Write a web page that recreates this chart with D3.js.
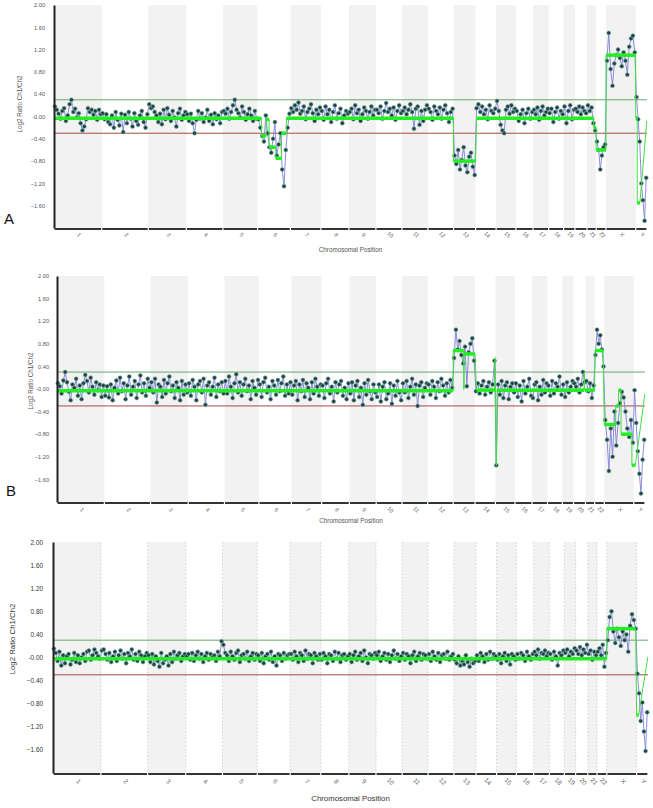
<!DOCTYPE html>
<html lang="en">
<head>
    <meta charset="UTF-8">
    <title>Array CGH profiles</title>
    <script src="https://cdnjs.cloudflare.com/ajax/libs/d3/7.8.2/d3.min.js"></script>
    <style>
        body {
            margin: 0;
            padding: 0;
            background-color: #ffffff;
            font-family: Arial, "Liberation Sans", sans-serif;
        }
        svg { display: block; }
    </style>
</head>
<body>
    <svg width="653" height="808"></svg>

    <script>
        // chromosomes and their lengths (Mb), used for the genome axis
        const chromNames = ["1","2","3","4","5","6","7","8","9","10","11","12",
                            "13","14","15","16","17","18","19","20","21","22","X","Y"];
        const chromLengthsMb = [249,243,198,191,181,171,159,146,141,136,135,134,
                                115,107,103,90,81,78,59,63,48,51,155,59];
        const yTicks = [2, 1.6, 1.2, 0.8, 0.4, 0, -0.4, -0.8, -1.2, -1.6];
        const thresholds = [0.3, -0.3];

        // probe log2 ratios, x100, one list per chromosome
        const ratiosA = [
            [18,12,5,-4,10,15,-8,2,22,30,8,14,-2,6,-12,-25,-18,-5,15,8,12,3,10,-6,12,4],
            [6,-5,4,-10,-14,2,-20,8,-6,-16,5,-28,3,-12,8,-4,-18,6,-8,-15,2,10,-10,-20,4],
            [22,15,18,8,2,-10,5,-14,12,-5,15,3,-8,10,-2,-18,6,14,-6,2,8],
            [4,-8,5,-12,-30,-6,10,-4,6,-10,-2,12,-8,3,-14,6,-5,2,-12,8],
            [10,5,14,-4,8,20,30,12,6,-2,18,8,-6,4,14,2,-8,10,-4],
            [-5,-20,-35,-45,2,-30,-55,-65,-40,-10,-70,-50,-30,-95,-125,-60,-20,5],
            [15,8,20,12,25,5,10,18,-5,8,14,22,6,-8,12,4,16],
            [10,-6,18,4,12,-10,8,20,-4,6,14,-12,2,10,5],
            [8,14,-5,20,6,12,-8,4,16,10,-4,8,18,2,12],
            [12,6,18,-4,10,24,8,14,2,16,-6,10,20,6],
            [10,16,4,12,22,8,-22,14,18,-15,10,-8,12,20],
            [14,8,-6,18,10,4,16,-4,12,20,6,-10,8,14],
            [-70,-85,-60,-95,-78,-55,-88,-100,-72,-65,-90,-105],
            [15,22,8,18,4,12,-5,20,10,6,14],
            [28,10,-15,-25,-30,12,18,5,20,8,14],
            [10,-8,4,12,-12,6,14,-4,8],
            [12,4,16,-6,10,18,2,8,14],
            [6,14,-10,8,16,-4,10,4],
            [18,-12,10,20,-5,12],
            [14,8,18,4,16,10,6],
            [20,10,16,-12,-25],
            [-45,-60,-95,-70,-55,-50],
            [100,150,85,55,95,110,120,105,90,115,100,75,125,140,145,115],
            [35,-5,-45,-120,-150,-187,-110]
        ];
        const ratiosB = [
            [10,5,-8,15,30,12,-5,-20,8,2,18,-12,6,-18,10,25,14,-6,20,4,-10,12,-2,8,-14,6],
            [-12,5,-15,8,-20,2,15,-8,20,-4,10,-18,6,22,-10,4,14,-16,8,24,-6,10,-12,18,2],
            [12,-6,18,-24,8,4,-14,16,-8,10,22,-4,6,-16,12,2,-20,14,-10,8,-6],
            [10,-12,16,4,-20,8,14,-6,18,-28,6,12,-10,4,20,-14,8,-4,12,-8],
            [14,-8,22,4,-16,10,26,-6,12,-12,8,18,-4,6,-18,14,2,-10,16],
            [8,-14,12,20,-6,4,-18,14,6,-10,16,-4,10,22,-12,8,-8,12],
            [-10,6,14,-20,8,-4,16,-14,10,2,-18,12,-8,18,4,-12,8],
            [6,-16,10,18,-8,4,-22,12,-6,8,14,-12,2,-18,10],
            [-8,12,-20,6,14,-14,2,-28,10,-10,16,-4,-18,8,-6],
            [-14,8,-22,4,12,-18,-8,10,-26,6,-12,14,-6,-20],
            [10,-6,14,-16,4,18,-10,8,-30,6,12,-14,2,10],
            [8,-10,14,4,-16,12,-4,18,6,-12,10,-6,16,2],
            [55,105,70,85,60,45,75,5,65,80,90,50],
            [-4,10,-8,6,14,-10,4,12,-6,8,50],
            [-135,8,-10,14,-16,6,12,-18,4,10,-6],
            [10,-14,6,-22,14,-8,4,18,-12],
            [-16,8,12,-20,4,-10,16,-6,10],
            [6,-12,14,-8,10,4,22,-10],
            [8,-14,12,-6,4,14],
            [10,4,18,-6,8,30,12],
            [14,-4,10,-16,6],
            [60,105,80,95,70,40],
            [-55,-90,-145,-70,-120,-40,-100,-60,-25,-5,-15,-40,-70,-85,-55,-95],
            [-2,-60,-110,-150,-185,-125,-90]
        ];
        const ratiosC = [
            [15,8,-6,10,-14,4,-10,2,6,-12,-4,8,-8,4,-10,0,6,-6,10,12,-4,4,14,8,2,-2],
            [12,14,6,-4,8,-8,2,10,-6,4,12,-2,6,-10,8,2,14,-4,6,-6,10,4,-8,2,8],
            [4,-8,6,-12,2,-6,-16,8,-10,-4,2,-14,6,-8,10,-2,4,8,-6,2,6],
            [2,6,-4,8,-6,4,10,-2,6,-8,2,8,-4,6,0,4,-6,10,2,28],
            [22,8,4,-6,10,2,-4,8,12,-8,4,6,-2,10,-6,2,8,-4,6],
            [4,-6,8,-10,2,6,-4,10,-8,2,-14,6,4,-6,8,-2,4,6],
            [6,-4,10,2,-8,8,4,-6,12,-2,6,4,-10,8,2,-4,6],
            [-4,8,2,-10,6,4,-6,10,-2,8,-8,4,6,-4,2],
            [6,-8,4,10,-4,2,8,-6,12,0,-10,6,4,-2,8],
            [4,10,-6,2,8,-4,6,-8,4,12,-2,6,-6,2],
            [8,-4,6,2,-10,4,10,-6,2,8,-4,6,4,-2],
            [6,-6,10,2,-4,8,-8,4,6,-2,10,-4,2,6],
            [-4,-10,2,-14,-6,-12,4,-8,-16,-2,-10,-6],
            [4,-6,8,2,-8,6,-4,10,-2,6,2],
            [-4,6,-10,2,8,-6,4,-12,6,2,-4],
            [6,-2,8,4,-6,10,2,-4,6],
            [10,4,14,-2,8,6,12,2,8],
            [6,-4,10,2,-14,8,4,12],
            [8,14,2,10,6,16],
            [12,6,18,4,14,8,22],
            [6,12,-4,10,4],
            [10,16,4,22,-16,8],
            [30,70,80,45,25,50,35,20,45,30,40,10,55,75,65,50],
            [-28,-62,-110,-78,-128,-162,-95]
        ];

        // segmentation calls: [fromChr, fromMb, toChr, toMb, mean log2 ratio]
        const segmentsA = [
            ["1",0,"6",20,-0.03], ["6",20,"6",45,-0.35], ["6",45,"6",60,-0.05],
            ["6",60,"6",95,-0.55], ["6",95,"6",125,-0.75], ["6",125,"6",150,-0.3],
            ["6",150,"12",134,-0.03], ["13",0,"13",115,-0.8], ["14",5,"21",35,-0.03],
            ["21",35,"21",48,-0.2], ["22",0,"22",51,-0.6], ["X",0,"X",155,1.1],
            ["Y",0,"Y",8,-0.02], ["Y",8,"Y",22,-1.55], ["Y",58,"Y",59,-0.08]
        ];
        const segmentsB = [
            ["1",0,"12",134,-0.03], ["13",0,"13",55,0.68], ["13",56,"13",57,0.0],
            ["13",58,"13",115,0.62], ["14",8,"14",104,-0.02], ["14",105,"14",106,0.55],
            ["15",4,"15",5,-1.35], ["15",9,"20",55,-0.02], ["20",56,"20",57,0.3],
            ["20",59,"21",48,-0.02], ["22",2,"22",45,0.68], ["X",0,"X",60,-0.63],
            ["X",60,"X",75,-0.3], ["X",75,"X",88,-0.02], ["X",88,"X",145,-0.8],
            ["X",145,"Y",8,-1.35], ["Y",58,"Y",59,-0.1]
        ];
        const segmentsC = [
            ["1",0,"22",51,-0.02], ["X",0,"X",150,0.5],
            ["Y",0,"Y",10,-1.0], ["Y",58,"Y",59,0.0]
        ];

        const svg = d3.select("svg");

        const chromStart = [];
        let total = 0;
        chromLengthsMb.forEach(len => { chromStart.push(total); total += len; });
        const gpos = (chr, mb) => chromStart[chromNames.indexOf(chr)] + mb;

        const panels = [
            { letter: "A", ratios: ratiosA, segs: segmentsA, left: 54, right: 647, top: 5, bottom: 228,
              tickX: 45, tickFont: 5.6, ylabX: 22, ylabY: 104, labFont: 6.3, letterX: 4, letterY: 224,
              chrY: 236, xlabY: 252, color: "#555", dotted: false },
            { letter: "B", ratios: ratiosB, segs: segmentsB, left: 57, right: 645, top: 276, bottom: 502,
              tickX: 49, tickFont: 5.6, ylabX: 33, ylabY: 381, labFont: 6.3, letterX: 6, letterY: 496,
              chrY: 511, xlabY: 523, color: "#555", dotted: false },
            { letter: "", ratios: ratiosC, segs: segmentsC, left: 53, right: 648, top: 542, bottom: 773,
              tickX: 43, tickFont: 6.4, ylabX: 15, ylabY: 639, labFont: 7.8, letterX: 0, letterY: 0,
              chrY: 783, xlabY: 801, color: "#333", dotted: true }
        ];

        panels.forEach(p => {
            const g = svg.append("g");
            const x = d3.scaleLinear().domain([0, total]).range([p.left, p.right]);
            const y = d3.scaleLinear().domain([-2, 2]).range([p.bottom, p.top]);

            const chroms = chromNames.map((c, i) => ({ name: c, i: i, start: chromStart[i], len: chromLengthsMb[i] }));

            // alternating chromosome bands
            g.selectAll("rect.band")
                .data(chroms.filter(d => d.i % 2 === 0))
                .enter().append("rect")
                .attr("x", d => x(d.start))
                .attr("y", p.top)
                .attr("width", d => x(d.start + d.len) - x(d.start))
                .attr("height", p.bottom - p.top)
                .attr("fill", "#f2f2f2");

            if (p.dotted) {
                g.selectAll("line.sep")
                    .data(chroms.slice(1))
                    .enter().append("line")
                    .attr("x1", d => x(d.start)).attr("x2", d => x(d.start))
                    .attr("y1", p.top).attr("y2", p.bottom)
                    .attr("stroke", "#d4d4d4")
                    .attr("stroke-dasharray", "1.5,2");
            }

            // threshold lines
            g.selectAll("line.thr")
                .data(thresholds)
                .enter().append("line")
                .attr("x1", p.left).attr("x2", p.right)
                .attr("y1", d => y(d)).attr("y2", d => y(d))
                .attr("stroke", d => d > 0 ? "#6aa86a" : "#a84848")
                .attr("stroke-width", 1);

            // probes
            const pts = [];
            p.ratios.forEach((vals, i) => {
                vals.forEach((v, j) => {
                    pts.push({ gx: chromStart[i] + (j + 0.5) / vals.length * chromLengthsMb[i], v: v / 100 });
                });
            });

            g.append("path")
                .datum(pts)
                .attr("fill", "none")
                .attr("stroke", "#8080d8")
                .attr("stroke-width", 0.9)
                .attr("d", d3.line().x(d => x(d.gx)).y(d => y(d.v)));

            g.selectAll("circle")
                .data(pts)
                .enter().append("circle")
                .attr("cx", d => x(d.gx))
                .attr("cy", d => y(d.v))
                .attr("r", 2)
                .attr("fill", "#1f4438")
                .attr("stroke", "#7fb0b8")
                .attr("stroke-width", 0.6);

            // segmentation
            const segs = p.segs.map(s => ({ x0: gpos(s[0], s[1]), x1: gpos(s[2], s[3]), v: s[4] }));
            const stepPts = [];
            segs.forEach(s => { stepPts.push([s.x0, s.v]); stepPts.push([s.x1, s.v]); });

            g.append("path")
                .datum(stepPts)
                .attr("fill", "none")
                .attr("stroke", "#44dd44")
                .attr("stroke-width", 1)
                .attr("d", d3.line().x(d => x(d[0])).y(d => y(d[1])));

            g.selectAll("line.seg")
                .data(segs)
                .enter().append("line")
                .attr("x1", d => x(d.x0)).attr("x2", d => x(d.x1))
                .attr("y1", d => y(d.v)).attr("y2", d => y(d.v))
                .attr("stroke", "#22ee22")
                .attr("stroke-width", 3.5);

            // y axis
            const yAxis = d3.axisLeft(y)
                .tickValues(yTicks)
                .tickSize(0)
                .tickPadding(p.left - p.tickX)
                .tickFormat(d => d === 0 ? "-0.00" : d3.format(".2f")(d));
            const ya = g.append("g")
                .attr("transform", `translate(${p.left},0)`)
                .call(yAxis);
            ya.select(".domain").attr("stroke", "#222").attr("stroke-width", 2);
            ya.selectAll("text").attr("font-size", p.tickFont).attr("fill", p.color);

            // x axis, broken at chromosome boundaries
            g.selectAll("line.xaxis")
                .data(chroms)
                .enter().append("line")
                .attr("x1", d => x(d.start) + 0.6)
                .attr("x2", d => x(d.start + d.len) - 0.6)
                .attr("y1", p.bottom + 1).attr("y2", p.bottom + 1)
                .attr("stroke", "#333")
                .attr("stroke-width", 2);

            g.selectAll("text.chr")
                .data(chroms)
                .enter().append("text")
                .attr("transform", d => `translate(${x(d.start + d.len / 2)},${p.chrY}) rotate(45)`)
                .attr("text-anchor", "middle")
                .attr("font-size", p.tickFont)
                .attr("fill", "#666")
                .text(d => d.name);

            g.append("text")
                .attr("x", (p.left + p.right) / 2)
                .attr("y", p.xlabY)
                .attr("text-anchor", "middle")
                .attr("font-size", p.labFont)
                .attr("fill", p.color)
                .text("Chromosomal Position");

            g.append("text")
                .attr("transform", `translate(${p.ylabX},${p.ylabY}) rotate(-90)`)
                .attr("text-anchor", "middle")
                .attr("font-size", p.labFont)
                .attr("fill", p.color)
                .text("Log2 Ratio Ch1/Ch2");

            if (p.letter) {
                g.append("text")
                    .attr("x", p.letterX)
                    .attr("y", p.letterY)
                    .attr("font-size", 15)
                    .attr("fill", "#111")
                    .text(p.letter);
            }
        });
    </script>
</body>
</html>
